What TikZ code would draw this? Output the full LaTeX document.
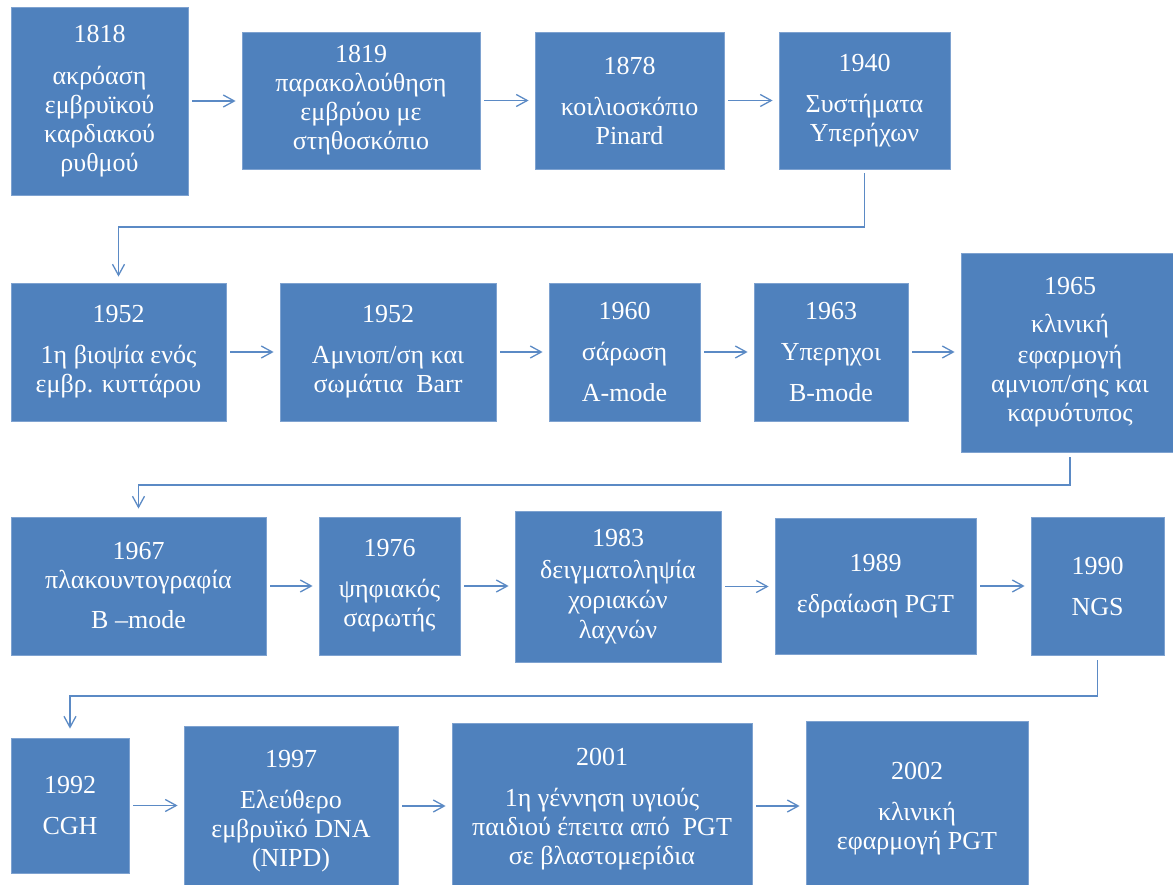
\documentclass[tikz,border=0pt]{standalone}
\usepackage{fontspec}
\setmainfont{Liberation Serif}
\usetikzlibrary{arrows.meta}
\definecolor{boxblue}{HTML}{4F81BD}
\definecolor{edgeblue}{HTML}{7EA2D0}
\definecolor{lineblue}{HTML}{5B8AC5}
\tikzset{
 tbox/.style={fill=boxblue, draw=edgeblue, line width=0.8pt, inner sep=0pt, align=center, text=white, font=\fontsize{26}{29}\selectfont},
 conn/.style={draw=lineblue, line width=1.3pt, -{Straight Barb[length=11pt,width=12pt]}},
 hconn/.style={conn, shorten <=4pt, shorten >=6pt},
}
\begin{document}
\begin{tikzpicture}[x=1pt,y=-1pt]
\useasboundingbox (0,0) rectangle (1173,885);
% row 1
\node[tbox, minimum width=177, minimum height=188] (B1) at (99.5,101) {1818\\[13pt]ακρόαση\\εμβρυϊκού\\καρδιακού\\ρυθμού};
\node[tbox, minimum width=238, minimum height=137] (B2) at (361,100.5) {1819\\παρακολούθηση\\εμβρύου με\\στηθοσκόπιο};
\node[tbox, minimum width=189, minimum height=137] (B3) at (629.5,100.5) {1878\\[12pt]κοιλιοσκόπιο\\Pinard};
\node[tbox, minimum width=171, minimum height=137] (B4) at (864.5,100.5) {1940\\[12pt]Συστήματα\\Υπερήχων};
% row 2
\node[tbox, minimum width=215, minimum height=138] (B5) at (118.5,352) {1952\\[12pt]1η βιοψία ενός\\εμβρ. κυττάρου};
\node[tbox, minimum width=216, minimum height=138] (B6) at (388,352) {1952\\[12pt]Αμνιοπ/ση και\\σωμάτια\ \ Barr};
\node[tbox, minimum width=151, minimum height=138] (B7) at (624.5,352) {1960\\[12pt]σάρωση\\[12pt]A-mode};
\node[tbox, minimum width=154, minimum height=138] (B8) at (831,352) {1963\\[12pt]Υπερηχοι\\[12pt]B-mode};
\node[tbox, minimum width=218, minimum height=199] (B9) at (1070,352.5) {1965\\[9pt]κλινική\\[2pt]εφαρμογή\\αμνιοπ/σης και\\καρυότυπος};
% row 3
\node[tbox, minimum width=255, minimum height=138] (B10) at (138.5,586) {1967\\πλακουντογραφία\\[11pt]B –mode};
\node[tbox, minimum width=141, minimum height=138] (B11) at (389.5,586) {1976\\[12pt]ψηφιακός\\σαρωτής};
\node[tbox, minimum width=206, minimum height=151] (B12) at (618,586.5) {1983\\[3pt]δειγματοληψία\\[1pt]χοριακών\\[1pt]λαχνών};
\node[tbox, minimum width=201, minimum height=136] (B13) at (875.5,586) {1989\\[12pt]εδραίωση PGT};
\node[tbox, minimum width=133, minimum height=138] (B14) at (1097.5,586) {1990\\[12pt]NGS};
% row 4
\node[tbox, minimum width=118, minimum height=135] (B15) at (70,805.5) {1992\\[12pt]CGH};
\node[tbox, minimum width=214, minimum height=170] (B16) at (291,811) {1997\\[12pt]Ελεύθερο\\εμβρυϊκό DNA\\(NIPD)};
\node[tbox, minimum width=300, minimum height=173] (B17) at (602,809.5) {2001\\[12pt]1η γέννηση υγιούς\\παιδιού έπειτα από\ \ PGT\\σε βλαστομερίδια};
\node[tbox, minimum width=222, minimum height=175] (B18) at (917,808.5) {2002\\[12pt]κλινική\\εφαρμογή PGT};
% horizontal arrows
\draw[hconn] (B1.east) -- (B1.east -| B2.west);
\draw[hconn] (B2.east) -- (B2.east -| B3.west);
\draw[hconn] (B3.east) -- (B3.east -| B4.west);
\draw[hconn] (B5.east) -- (B5.east -| B6.west);
\draw[hconn] (B6.east) -- (B6.east -| B7.west);
\draw[hconn] (B7.east) -- (B7.east -| B8.west);
\draw[hconn] (B8.east) -- (B8.east -| B9.west);
\draw[hconn] (B10.east) -- (B10.east -| B11.west);
\draw[hconn] (B11.east) -- (B11.east -| B12.west);
\draw[hconn] (B12.east) -- (B12.east -| B13.west);
\draw[hconn] (B13.east) -- (B13.east -| B14.west);
\draw[hconn] (B15.east) -- (B15.east -| B16.west);
\draw[hconn] ([yshift=5pt]B16.east) -- ([yshift=5pt]B16.east -| B17.west);
\draw[hconn] ([yshift=3.5pt]B17.east) -- ([yshift=3.5pt]B17.east -| B18.west);
% row connectors
\coordinate (r1) at (0,227);
\coordinate (r2) at (0,485);
\coordinate (r3) at (0,696);
\draw[conn, shorten <=4pt, shorten >=6pt] (B4.south) -- (B4.south |- r1) -- (B5.north |- r1) -- (B5.north);
\draw[conn, shorten <=5pt, shorten >=8pt] (B9.south) -- (B9.south |- r2) -- (B10.north |- r2) -- (B10.north);
\draw[conn, shorten <=5pt, shorten >=9pt] (B14.south) -- (B14.south |- r3) -- (B15.north |- r3) -- (B15.north);
\end{tikzpicture}
\end{document}
